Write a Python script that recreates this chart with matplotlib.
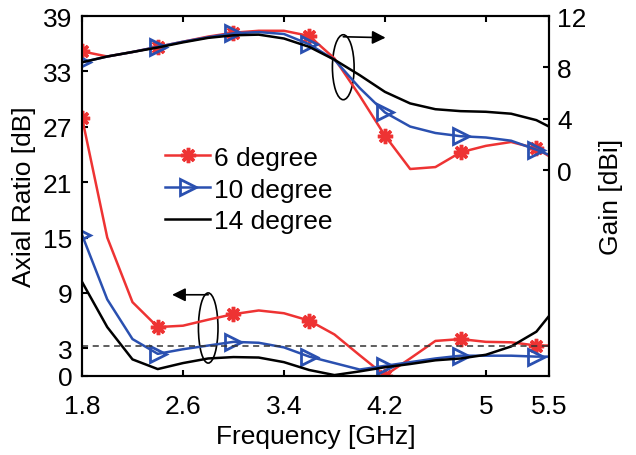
import matplotlib
matplotlib.use("Agg")
import matplotlib.pyplot as plt
from matplotlib.patches import Ellipse

plt.rcParams['font.family'] = ['Liberation Sans', 'DejaVu Sans']

freq = [1.8, 2.0, 2.2, 2.4, 2.6, 2.8, 3.0, 3.2, 3.4, 3.6, 3.8, 4.0, 4.2,
        4.4, 4.6, 4.8, 5.0, 5.2, 5.4, 5.5]

ar_6 = [28.0, 15.0, 8.0, 5.3, 5.45, 6.1, 6.7, 7.1, 6.8, 6.0, 4.5, 2.25, 0.05,
        1.9, 3.8, 4.0, 3.7, 3.65, 3.3, 3.3]
ar_10 = [15.3, 8.3, 4.0, 2.4, 2.9, 3.3, 3.7, 3.6, 3.1, 2.1, 1.4, 0.7, 1.1,
         1.5, 1.9, 2.2, 2.2, 2.2, 2.1, 2.1]
ar_14 = [10.2, 5.3, 1.8, 0.75, 1.4, 1.9, 2.05, 2.0, 1.5, 0.65, 0.1, 0.5, 0.95,
         1.3, 1.7, 1.9, 2.3, 3.2, 4.8, 6.5]

gain_6 = [9.25, 8.85, 9.2, 9.6, 10.0, 10.4, 10.7, 10.85, 10.85, 10.45, 8.7, 5.8,
          2.7, 0.1, 0.25, 1.4, 1.9, 2.2, 1.7, 1.1]
gain_10 = [8.4, 8.85, 9.2, 9.6, 10.0, 10.35, 10.65, 10.75, 10.6, 9.8, 8.6, 6.4,
           4.5, 3.4, 2.9, 2.65, 2.55, 2.3, 1.6, 1.2]
gain_14 = [8.4, 8.85, 9.2, 9.55, 9.95, 10.3, 10.5, 10.55, 10.25, 9.6, 8.6, 7.4,
           6.1, 5.2, 4.75, 4.6, 4.55, 4.4, 3.9, 3.4]

ar_threshold = 3.3

x_ticks = [1.8, 2.6, 3.4, 4.2, 5, 5.5]
x_ticklabels = ['1.8', '2.6', '3.4', '4.2', '5', '5.5']
ar_ticks = [0, 3, 9, 15, 21, 27, 33, 39]
gain_ticks = [0, 4, 8, 12]
labels = ['6 degree', '10 degree', '14 degree']

red = '#ee3333'
blue = '#2a50b0'
black = '#000000'
fs = 19

fig = plt.figure(figsize=(6.36, 4.56), dpi=100)
ax = fig.add_axes([82/636, 1-377/456, (549-82)/636, (377-17)/456])
ax2 = ax.twinx()

mk = [0, 3, 6, 9, 12, 15, 18]
lw = 1.8
red_kw = dict(color=red, lw=lw, marker=(8, 2, 0), ms=11, mew=2.5, markevery=mk)
blue_kw = dict(color=blue, lw=lw, marker='>', ms=11, mew=2.0, mfc='none', markevery=mk)
black_kw = dict(color=black, lw=lw)

ax.plot(freq, ar_6, **red_kw)
ax.plot(freq, ar_10, **blue_kw)
ax.plot(freq, ar_14, **black_kw)
ax.axhline(ar_threshold, color='#333333', lw=1.1, ls=(0, (4, 3)))

h1, = ax2.plot(freq, gain_6, **red_kw)
h2, = ax2.plot(freq, gain_10, **blue_kw)
h3, = ax2.plot(freq, gain_14, **black_kw)

ax.set_xlim(1.8, 5.5)
ax.set_ylim(0, 39)
ax2.set_ylim(-16, 12)
ax.set_xticks(x_ticks)
ax.set_xticklabels(x_ticklabels)
ax.set_yticks(ar_ticks)
ax2.set_yticks(gain_ticks)

for a in (ax, ax2):
    for s in a.spines.values():
        s.set_linewidth(1.5)
ax.tick_params(axis='x', direction='in', top=True, length=4, width=1.5, pad=13, labelsize=fs)
ax.tick_params(axis='y', direction='in', length=4, width=1.5, pad=7, labelsize=fs)
ax2.tick_params(axis='y', direction='in', length=4, width=1.5, pad=6, labelsize=fs)

ax.set_xlabel('Frequency [GHz]', fontsize=fs, labelpad=4)
ax.set_ylabel('Axial Ratio [dB]', fontsize=fs, labelpad=5)
ax2.set_ylabel('Gain [dBi]', fontsize=fs, labelpad=9)

# annotations
ax.add_patch(Ellipse((3.87, 33.45), 0.172, 7.04, fill=False, ec='black', lw=1.2))
ax.annotate('', xy=(4.205, 36.65), xytext=(3.87, 36.75),
            arrowprops=dict(arrowstyle='-|>', color='black', lw=1.2, mutation_scale=20,
                            shrinkA=0, shrinkB=0))
ax.add_patch(Ellipse((2.8, 5.2), 0.155, 7.6, fill=False, ec='black', lw=1.2))
ax.annotate('', xy=(2.514, 8.8), xytext=(2.8, 8.8),
            arrowprops=dict(arrowstyle='-|>', color='black', lw=1.2, mutation_scale=20,
                            shrinkA=0, shrinkB=0))

leg = ax2.legend([h1, h2, h3], labels, loc='center left', bbox_to_anchor=(0.178, 0.518),
                 frameon=False, fontsize=fs, handlelength=1.7, handletextpad=0.15,
                 borderpad=0, borderaxespad=0, labelspacing=0.3)

fig.savefig('out.png', dpi=100)
